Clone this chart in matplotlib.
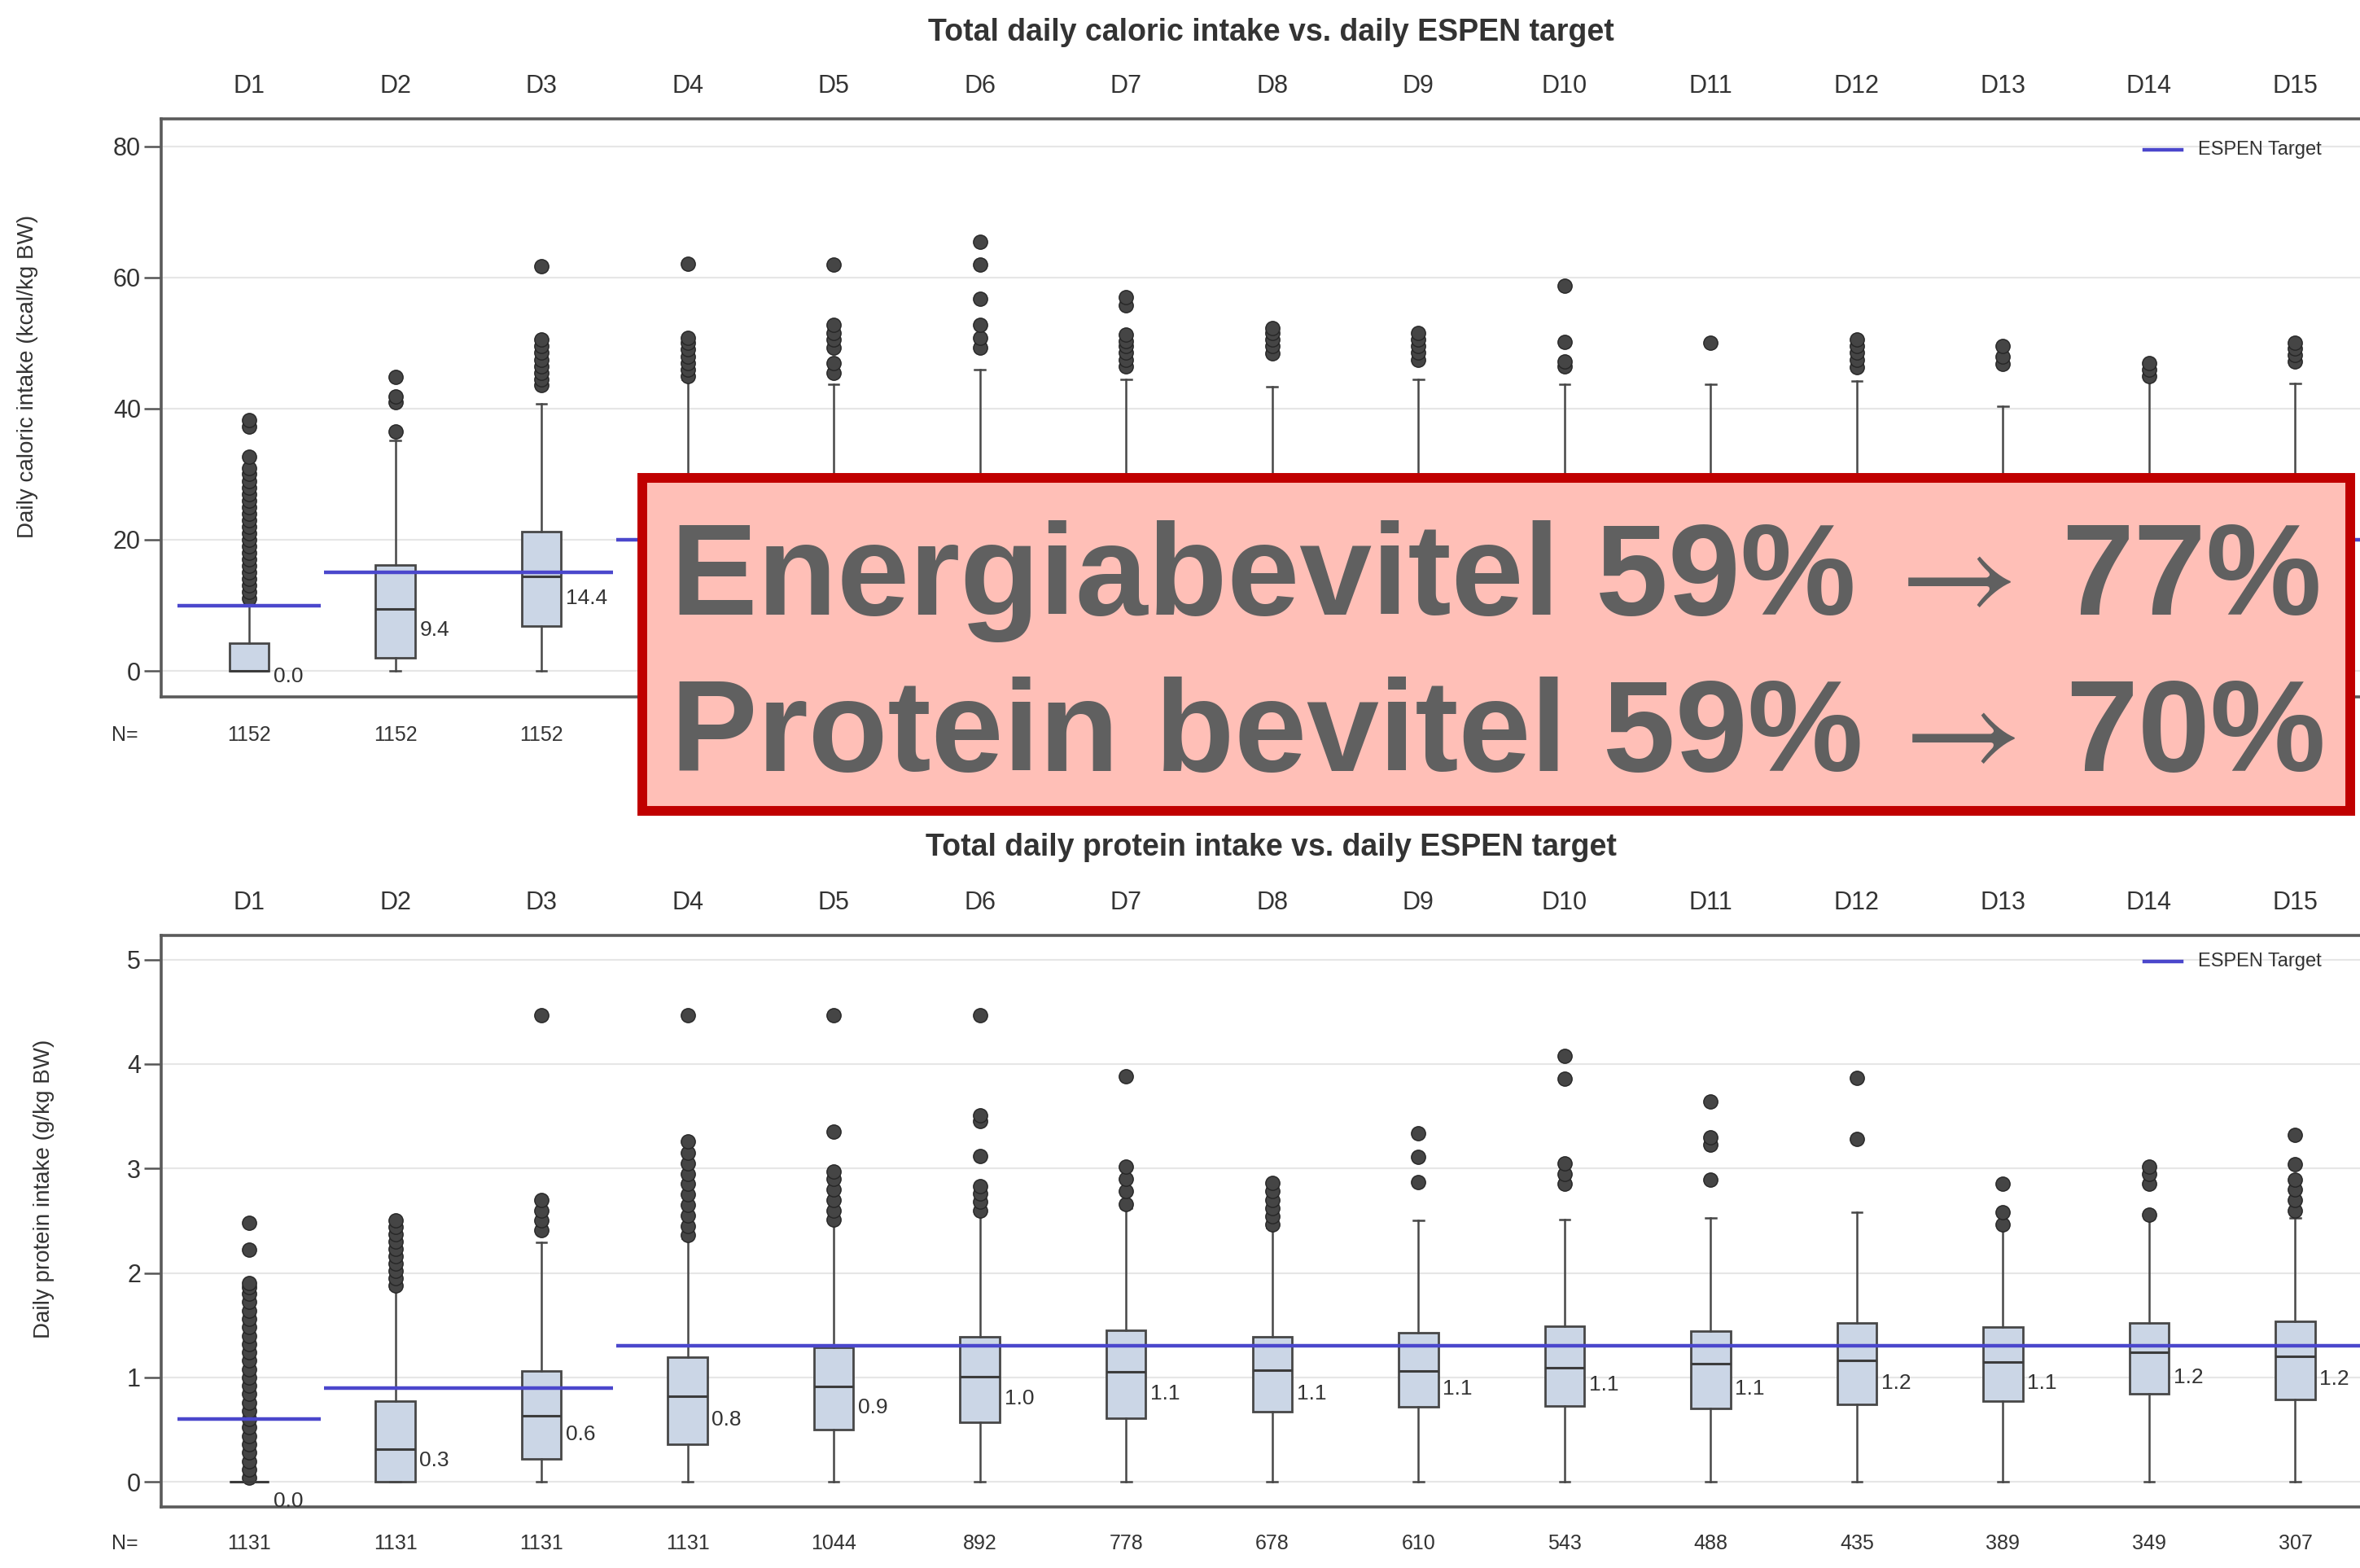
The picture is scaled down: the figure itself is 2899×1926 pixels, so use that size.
import matplotlib.pyplot as plt
from matplotlib.patches import Rectangle
from matplotlib.transforms import blended_transform_factory

plt.rcParams['font.family'] = ['Liberation Sans', 'DejaVu Sans']

days = ['D1', 'D2', 'D3', 'D4', 'D5', 'D6', 'D7', 'D8',
        'D9', 'D10', 'D11', 'D12', 'D13', 'D14', 'D15']

# caloric intake (kcal/kg BW); D4-D15 boxes are hidden behind the overlay in the source
cal_q1 = [0.0, 2.0, 6.8, 10.0, 11.0, 12.0, 12.5, 13.0, 13.5, 14.0, 14.0, 14.5, 15.0, 15.0, 15.5]
cal_med = [0.0, 9.4, 14.4, 17.0, 17.5, 18.5, 19.0, 19.5, 19.5, 20.0, 20.0, 20.5, 21.0, 21.0, 21.5]
cal_q3 = [4.2, 16.2, 21.3, 24.0, 24.5, 25.0, 25.5, 26.0, 26.0, 26.5, 26.5, 27.0, 27.0, 27.5, 27.5]
cal_lo = [0, 0, 0, 0, 0, 0, 0, 0, 0, 0, 0, 0, 0, 0, 0]
cal_hi = [10.3, 35.1, 40.7, 44.5, 43.7, 45.9, 44.4, 43.3, 44.4, 43.7, 43.7, 44.2, 40.4, 44.5, 43.9]
cal_fliers = [
    [11, 12, 13, 14, 15, 16, 17, 18, 19, 20, 21, 22, 23, 24, 25, 26, 27, 28, 29, 30, 30.9, 32.7, 37.3, 38.2],
    [36.5, 41.0, 41.8, 44.8],
    [43.6, 44.5, 45.5, 46.5, 47.5, 48.5, 49.5, 50.5, 61.7],
    [45.0, 46.0, 47.0, 48.0, 49.0, 50.0, 50.8, 62.1],
    [45.4, 46.9, 49.3, 50.5, 51.5, 52.8, 62.0],
    [49.3, 50.8, 52.8, 56.7, 62.0, 65.5],
    [46.4, 47.5, 48.5, 49.5, 50.3, 51.3, 55.8, 57.0],
    [48.4, 49.5, 50.5, 51.5, 52.3],
    [47.4, 48.5, 49.5, 50.5, 51.5],
    [46.4, 47.2, 50.2, 58.7],
    [50.1],
    [46.3, 47.5, 48.5, 49.5, 50.5],
    [46.8, 48.0, 49.6],
    [44.9, 46.0, 47.0],
    [47.2, 48.2, 49.2, 50.1],
]
cal_target = [10, 15, 15, 20, 20, 20, 20, 20, 20, 20, 20, 20, 20, 20, 20]
cal_n = [1152, 1152, 1152]  # only D1-D3 are readable, the rest sit under the overlay

# protein intake (g/kg BW)
pro_q1 = [0.0, 0.0, 0.22, 0.36, 0.50, 0.57, 0.61, 0.67, 0.72, 0.73, 0.70, 0.74, 0.77, 0.84, 0.79]
pro_med = [0.0, 0.31, 0.63, 0.82, 0.91, 1.01, 1.05, 1.07, 1.06, 1.09, 1.13, 1.16, 1.15, 1.24, 1.20]
pro_q3 = [0.0, 0.77, 1.06, 1.19, 1.29, 1.39, 1.45, 1.39, 1.43, 1.49, 1.44, 1.52, 1.48, 1.52, 1.54]
pro_lo = [0, 0, 0, 0, 0, 0, 0, 0, 0, 0, 0, 0, 0, 0, 0]
pro_hi = [0.0, 1.85, 2.29, 2.33, 2.48, 2.57, 2.62, 2.43, 2.50, 2.51, 2.53, 2.58, 2.44, 2.52, 2.53]
pro_fliers = [
    [0.04, 0.12, 0.2, 0.28, 0.36, 0.44, 0.52, 0.6, 0.68, 0.76, 0.84, 0.92, 1.0, 1.08,
     1.16, 1.24, 1.32, 1.4, 1.48, 1.56, 1.64, 1.72, 1.8, 1.86, 1.9, 2.22, 2.48],
    [1.88, 1.95, 2.02, 2.09, 2.16, 2.23, 2.30, 2.37, 2.44, 2.50],
    [2.41, 2.5, 2.6, 2.7, 4.47],
    [2.36, 2.45, 2.55, 2.65, 2.75, 2.85, 2.95, 3.05, 3.15, 3.26, 4.47],
    [2.51, 2.6, 2.7, 2.8, 2.9, 2.97, 3.35, 4.47],
    [2.6, 2.68, 2.76, 2.83, 3.12, 3.45, 3.51, 4.47],
    [2.66, 2.78, 2.90, 3.02, 3.88],
    [2.46, 2.54, 2.62, 2.7, 2.78, 2.86],
    [2.87, 3.11, 3.34],
    [2.85, 2.95, 3.05, 3.86, 4.08],
    [2.89, 3.23, 3.30, 3.64],
    [3.28, 3.87],
    [2.46, 2.58, 2.85],
    [2.56, 2.85, 2.95, 3.02],
    [2.6, 2.7, 2.8, 2.89, 3.04, 3.32],
]
pro_target = [0.6, 0.9, 0.9, 1.3, 1.3, 1.3, 1.3, 1.3, 1.3, 1.3, 1.3, 1.3, 1.3, 1.3, 1.3]
pro_n = [1131, 1131, 1131, 1131, 1044, 892, 778, 678, 610, 543, 488, 435, 389, 349, 307]

# overlay text: label, before, after
overlay_labels = ['Energiabevitel', 'Protein bevitel']
overlay_before = ['59%', '59%']
overlay_after = ['77%', '70%']

W, H = 2899, 1926
TXT = '#333333'
BLUE = '#4b47cc'


def fx(px):
    return px / W


def fy(py):
    return 1 - py / H


def panel(ax, q1, med, q3, lo, hi, fliers, target, n, ylim, yticks,
          ylabel, title, title_y, n_y, legend_y):
    pos = list(range(1, len(days) + 1))
    stats = []
    for i in range(len(days)):
        stats.append(dict(q1=q1[i], med=med[i], q3=q3[i], whislo=lo[i],
                          whishi=hi[i], fliers=fliers[i]))
    ax.bxp(stats, positions=pos, widths=0.27, capwidths=0.07, patch_artist=True,
           boxprops=dict(facecolor='#cbd6e6', edgecolor='#474747', linewidth=2),
           medianprops=dict(color='#3c3c3c', linewidth=2.2),
           whiskerprops=dict(color='#474747', linewidth=1.8),
           capprops=dict(color='#474747', linewidth=1.8),
           flierprops=dict(marker='o', markersize=12.5, markerfacecolor='#454545',
                           markeredgecolor='#262626', markeredgewidth=1))

    # ESPEN target, one segment per day
    for i, t in enumerate(target):
        x0 = pos[i] - 0.49
        x1 = pos[i] + 0.49 if i < len(target) - 1 else 15.7
        if i > 0 and target[i - 1] == t:
            x0 = pos[i] - 0.5
        if i < len(target) - 1 and target[i + 1] == t:
            x1 = pos[i] + 0.5
        ax.plot([x0, x1], [t, t], color=BLUE, lw=3.2, zorder=5, solid_capstyle='butt')

    # median labels, only where the source shows them (N known)
    for i in range(len(n)):
        mid = (q1[i] + q3[i]) / 2
        ax.annotate(f'{med[i]:.1f}', xy=(pos[i] + 0.135, mid), xytext=(4, -17),
                    textcoords='offset points', ha='left', va='center',
                    fontsize=19, color=TXT)

    ax.set_xlim(0.398, 15.56)
    ax.set_ylim(*ylim)
    ax.set_yticks(yticks)
    ax.set_xticks(pos)
    ax.set_xticklabels(days)
    ax.xaxis.tick_top()
    ax.tick_params(axis='x', length=0, pad=18, labelsize=22, labelcolor=TXT)
    ax.tick_params(axis='y', length=15, width=1.8, pad=3, labelsize=22,
                   labelcolor=TXT, color='#555555')
    ax.yaxis.grid(True, color='#e6e6e6', lw=1.5)
    ax.set_axisbelow(True)
    for s in ax.spines.values():
        s.set_color('#5a5a5a')
        s.set_linewidth(2.6)
    ax.set_ylabel(ylabel, fontsize=20, color=TXT)

    trans = blended_transform_factory(ax.transData, fig.transFigure)
    for i in range(len(n)):
        ax.text(pos[i], fy(n_y), str(n[i]), transform=trans, ha='center',
                va='center', fontsize=18, color=TXT)
    fig.text(fx(153), fy(n_y), 'N=', ha='center', va='center', fontsize=18, color=TXT)
    fig.text(fx(1561), fy(title_y), title, ha='center', va='center',
             fontsize=27, fontweight='bold', color=TXT)

    # legend in the upper right corner
    lt = fig.transFigure
    ax.plot([fx(2634), fx(2680)], [fy(legend_y), fy(legend_y)], transform=lt,
            color=BLUE, lw=3.2, clip_on=False)
    ax.text(fx(2700), fy(legend_y), 'ESPEN Target', transform=lt, ha='left',
            va='center', fontsize=17, color=TXT, clip_on=False)


fig = plt.figure(figsize=(W / 100, H / 100), dpi=100)
ax_top = fig.add_axes([fx(198), fy(856), fx(2920) - fx(198), (856 - 146) / H])
ax_bot = fig.add_axes([fx(198), fy(1851), fx(2920) - fx(198), (1851 - 1149) / H])

panel(ax_top, cal_q1, cal_med, cal_q3, cal_lo, cal_hi, cal_fliers, cal_target, cal_n,
      (-3.97, 84.2), [0, 20, 40, 60, 80], 'Daily caloric intake (kcal/kg BW)',
      'Total daily caloric intake vs. daily ESPEN target', 40, 903, 184)
panel(ax_bot, pro_q1, pro_med, pro_q3, pro_lo, pro_hi, pro_fliers, pro_target, pro_n,
      (-0.24, 5.23), [0, 1, 2, 3, 4, 5], 'Daily protein intake (g/kg BW)',
      'Total daily protein intake vs. daily ESPEN target', 1041, 1896, 1181)

axw = fx(2920) - fx(198)
ax_top.yaxis.set_label_coords(fx(47 - 198) / axw, 0.555)
ax_bot.yaxis.set_label_coords(fx(67 - 198) / axw, 0.557)

# highlighted summary box over the chart
fig.add_artist(Rectangle((fx(789), fy(996)), fx(2887) - fx(789), (996 - 587) / H,
                         transform=fig.transFigure, facecolor='#ffbfb7',
                         edgecolor='#c00000', lw=8.6, zorder=10))
big = dict(fontsize=115, fontweight='bold', color='#606060', zorder=11, va='baseline')
baselines = [755, 947]
arrow_x = [2407, 2412]
after_x = [2532, 2537]
for i in range(2):
    fig.text(fx(824), fy(baselines[i]), overlay_labels[i] + ' ' + overlay_before[i],
             ha='left', **big)
    fig.text(fx(arrow_x[i]), fy(baselines[i]), '\u2192', ha='center',
             family=['STIXGeneral', 'DejaVu Sans'], fontsize=115, color='#606060',
             zorder=11, va='baseline')
    fig.text(fx(after_x[i]), fy(baselines[i]), overlay_after[i], ha='left', **big)

fig.savefig('out.png', dpi=100)
